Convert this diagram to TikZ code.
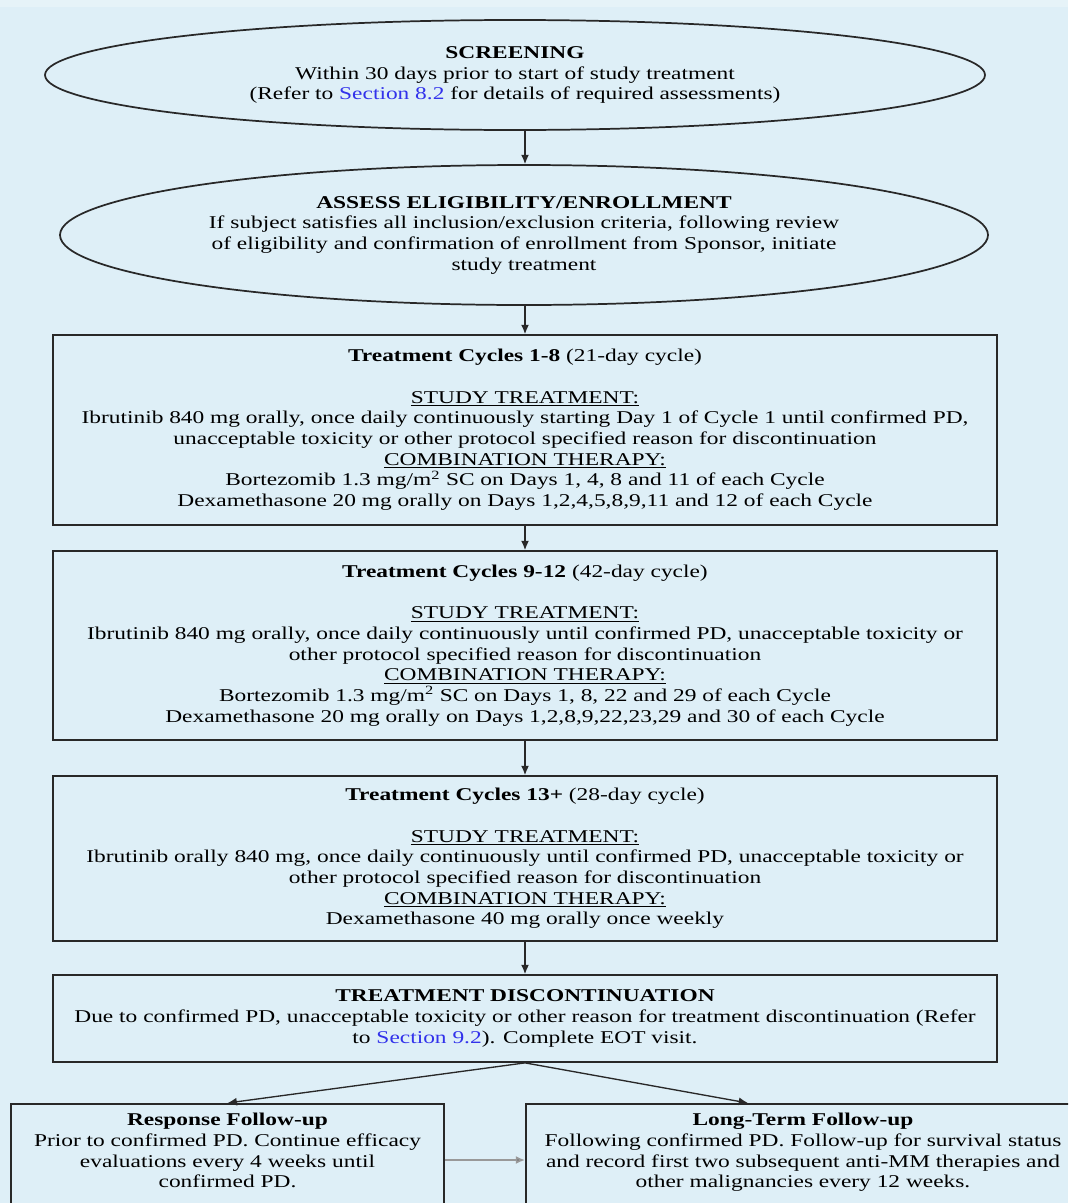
\documentclass[tikz,border=0pt]{standalone}
\usepackage{fontspec}
\setmainfont{Liberation Serif}[FakeStretch=1.3]
\usetikzlibrary{shapes.geometric,arrows.meta}
\definecolor{bgblue}{RGB}{222,239,247}
\definecolor{bgtop}{RGB}{230,243,248}
\definecolor{inkgray}{RGB}{40,40,40}
\definecolor{linkblue}{RGB}{50,50,235}
\tikzset{
  txt/.style={font=\fontsize{13.5}{15.5}\selectfont, align=center, text=black},
  oval/.style={ellipse, draw=inkgray, line width=1.3pt, inner sep=0pt, txt},
  stage/.style={rectangle, draw=inkgray, line width=1.3pt, minimum width=708pt, inner sep=2pt, txt},
  fu/.style={rectangle, draw=inkgray, line width=1.3pt, anchor=north, inner ysep=7pt, text depth=70pt, txt},
  flow/.style={draw=inkgray, line width=1pt, -{Latex[length=7pt,width=6pt]}},
}
\newcommand{\lnk}[1]{\textcolor{linkblue}{#1}}
\begin{document}
\begin{tikzpicture}[x=0.75pt, y=-0.75pt]
  % canvas
  \fill[bgblue] (0,0) rectangle (1068,1203);
  \fill[bgtop] (0,0) rectangle (1068,7);
  \clip (0,0) rectangle (1068,1203);

  % screening and enrollment
  \node[oval, minimum width=705pt, minimum height=82.5pt] (scr) at (515,75)
    {\textbf{SCREENING}\\
     Within 30 days prior to start of study treatment\\
     (Refer to \lnk{Section 8.2} for details of required assessments)};
  \node[oval, minimum width=696pt, minimum height=105pt] (elig) at (524,235)
    {\textbf{ASSESS ELIGIBILITY/ENROLLMENT}\\
     If subject satisfies all inclusion/exclusion criteria, following review\\
     of eligibility and confirmation of enrollment from Sponsor, initiate\\
     study treatment};

  % treatment stages
  \node[stage, minimum height=142.5pt] (c1) at (525,430)
    {\textbf{Treatment Cycles 1-8} (21-day cycle)\\[15.5pt]
     \underline{STUDY TREATMENT:}\\
     Ibrutinib 840 mg orally, once daily continuously starting Day 1 of Cycle 1 until confirmed PD,\\
     unacceptable toxicity or other protocol specified reason for discontinuation\\
     \underline{COMBINATION THERAPY:}\\
     Bortezomib 1.3 mg/m\textsuperscript{2} SC on Days 1, 4, 8 and 11 of each Cycle\\
     Dexamethasone 20 mg orally on Days 1,2,4,5,8,9,11 and 12 of each Cycle};
  \node[stage, minimum height=141.75pt] (c2) at (525,645.5)
    {\textbf{Treatment Cycles 9-12} (42-day cycle)\\[15.5pt]
     \underline{STUDY TREATMENT:}\\
     Ibrutinib 840 mg orally, once daily continuously until confirmed PD, unacceptable toxicity or\\
     other protocol specified reason for discontinuation\\
     \underline{COMBINATION THERAPY:}\\
     Bortezomib 1.3 mg/m\textsuperscript{2} SC on Days 1, 8, 22 and 29 of each Cycle\\
     Dexamethasone 20 mg orally on Days 1,2,8,9,22,23,29 and 30 of each Cycle};
  \node[stage, minimum height=123.75pt] (c3) at (525,858.5)
    {\textbf{Treatment Cycles 13+} (28-day cycle)\\[15.5pt]
     \underline{STUDY TREATMENT:}\\
     Ibrutinib orally 840 mg, once daily continuously until confirmed PD, unacceptable toxicity or\\
     other protocol specified reason for discontinuation\\
     \underline{COMBINATION THERAPY:}\\
     Dexamethasone 40 mg orally once weekly};
  \node[stage, minimum height=65.25pt] (disc) at (525,1018.5)
    {\textbf{TREATMENT DISCONTINUATION}\\
     Due to confirmed PD, unacceptable toxicity or other reason for treatment discontinuation (Refer\\
     to \lnk{Section 9.2}). Complete EOT visit.};

  % follow-up
  \node[fu, minimum width=324.75pt] (resp) at (227.5,1103)
    {\textbf{Response Follow-up}\\
     Prior to confirmed PD. Continue efficacy\\
     evaluations every 4 weeks until\\
     confirmed PD.};
  \node[fu, minimum width=415.5pt] (lt) at (803,1103)
    {\textbf{Long-Term Follow-up}\\
     Following confirmed PD. Follow-up for survival status\\
     and record first two subsequent anti-MM therapies and\\
     other malignancies every 12 weeks.};

  % connectors
  \coordinate (spine) at (525,0);
  \coordinate (ltin) at (748,1103);
  \coordinate (mid) at (485,1160);
  \draw[flow] (scr.south -| spine) -- (elig.north -| spine);
  \draw[flow] (elig.south -| spine) -- (c1.north);
  \draw[flow] (c1.south) -- (c2.north);
  \draw[flow] (c2.south) -- (c3.north);
  \draw[flow] (c3.south) -- (disc.north);
  \draw[flow] (disc.south) -- (resp.north);
  \draw[flow] (disc.south) -- (ltin);
  \draw[draw=gray!80, line width=1.6pt, -{Latex[length=7pt,width=6pt,fill=inkgray]}] (mid -| resp.east) -- (mid -| lt.west);
\end{tikzpicture}
\end{document}
